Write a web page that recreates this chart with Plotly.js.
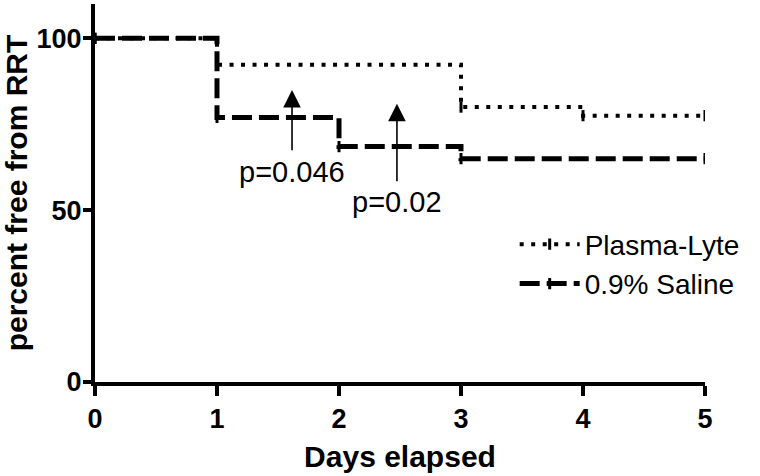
<!DOCTYPE html>
<html>
<head>
<meta charset="utf-8">
<script src="https://cdn.plot.ly/plotly-3.0.1.min.js"></script>
<style>
  html, body { margin: 0; padding: 0; background: #fff; }
  #chart { width: 760px; height: 476px; }
</style>
</head>
<body>
<div id="chart"></div>
<script>
// Kaplan-Meier style step data
const plasmaDays = [0, 1, 3, 4, 5];
const plasmaFree = [100, 92.3, 80, 77.5, 77.5];
const salineDays = [0, 1, 2, 3, 5];
const salineFree = [100, 77, 68.5, 65, 65];

// p-value arrows: x, tail y, head y, label position and text
const pDays = [1.615, 2.475];
const pTail = [67, 58];
const pHead = [85, 81];
const pLabelY = [61, 52.3];
const pLabels = ["p=0.046", "p=0.02"];

const xTicks = [0, 1, 2, 3, 4, 5];
const yTicks = [0, 50, 100];

const font = "Liberation Sans, Arial, sans-serif";

// censor ticks drawn as small vertical markers on the step points
var tickMarker = { symbol: 'line-ns-open', size: 8, color: '#000', line: { width: 3, color: '#000' } };

var plasma = {
    x: plasmaDays,
    y: plasmaFree,
    type: 'scatter',
    mode: 'lines+markers',
    line: { shape: 'hv', color: '#000', width: 4, dash: '4px,7.5px' },
    marker: tickMarker,
    name: 'Plasma-Lyte'
};

var saline = {
    x: salineDays,
    y: salineFree,
    type: 'scatter',
    mode: 'lines+markers',
    line: { shape: 'hv', color: '#000', width: 5, dash: '20px,7px' },
    marker: tickMarker,
    name: '0.9% Saline'
};

var annotations = [];
for (let i = 0; i < pDays.length; i++) {
    annotations.push({
        x: pDays[i], y: pHead[i],
        ax: pDays[i], ay: pTail[i],
        xref: 'x', yref: 'y', axref: 'x', ayref: 'y',
        text: '', showarrow: true,
        arrowhead: 2, arrowsize: 2.2, arrowwidth: 1.6, arrowcolor: '#000'
    });
    annotations.push({
        x: pDays[i], y: pLabelY[i],
        xref: 'x', yref: 'y',
        text: pLabels[i], showarrow: false,
        yanchor: 'middle', xanchor: 'center',
        font: { family: font, size: 29, color: '#000' }
    });
}

var layout = {
    width: 760,
    height: 476,
    margin: { l: 95, r: 55, t: 4, b: 94 },
    paper_bgcolor: '#fff',
    plot_bgcolor: '#fff',
    showlegend: true,
    legend: {
        x: 0.688, y: 0.43, xanchor: 'left', yanchor: 'top',
        font: { family: font, size: 28, color: '#000' },
        bgcolor: 'rgba(0,0,0,0)',
        itemwidth: 60
    },
    xaxis: {
        title: { text: 'Days elapsed', font: { family: font, size: 30, color: '#000', weight: 'bold' }, standoff: 14 },
        range: [0, 5],
        tickvals: xTicks,
        ticks: 'outside', ticklen: 10, tickwidth: 4, tickcolor: '#000',
        showline: true, linewidth: 4, linecolor: '#000',
        showgrid: false, zeroline: false,
        tickfont: { family: font, size: 27, color: '#000', weight: 'bold' }
    },
    yaxis: {
        title: { text: 'percent free from RRT', font: { family: font, size: 30, color: '#000', weight: 'bold' }, standoff: 6 },
        range: [0, 110],
        tickvals: yTicks,
        ticks: 'outside', ticklen: 8, tickwidth: 4, tickcolor: '#000',
        showline: true, linewidth: 4, linecolor: '#000',
        showgrid: false, zeroline: false,
        ticklabelstandoff: -4,
        tickfont: { family: font, size: 27, color: '#000', weight: 'bold' }
    },
    annotations: annotations
};

Plotly.newPlot('chart', [plasma, saline], layout, { displayModeBar: false, staticPlot: true });
</script>
</body>
</html>
